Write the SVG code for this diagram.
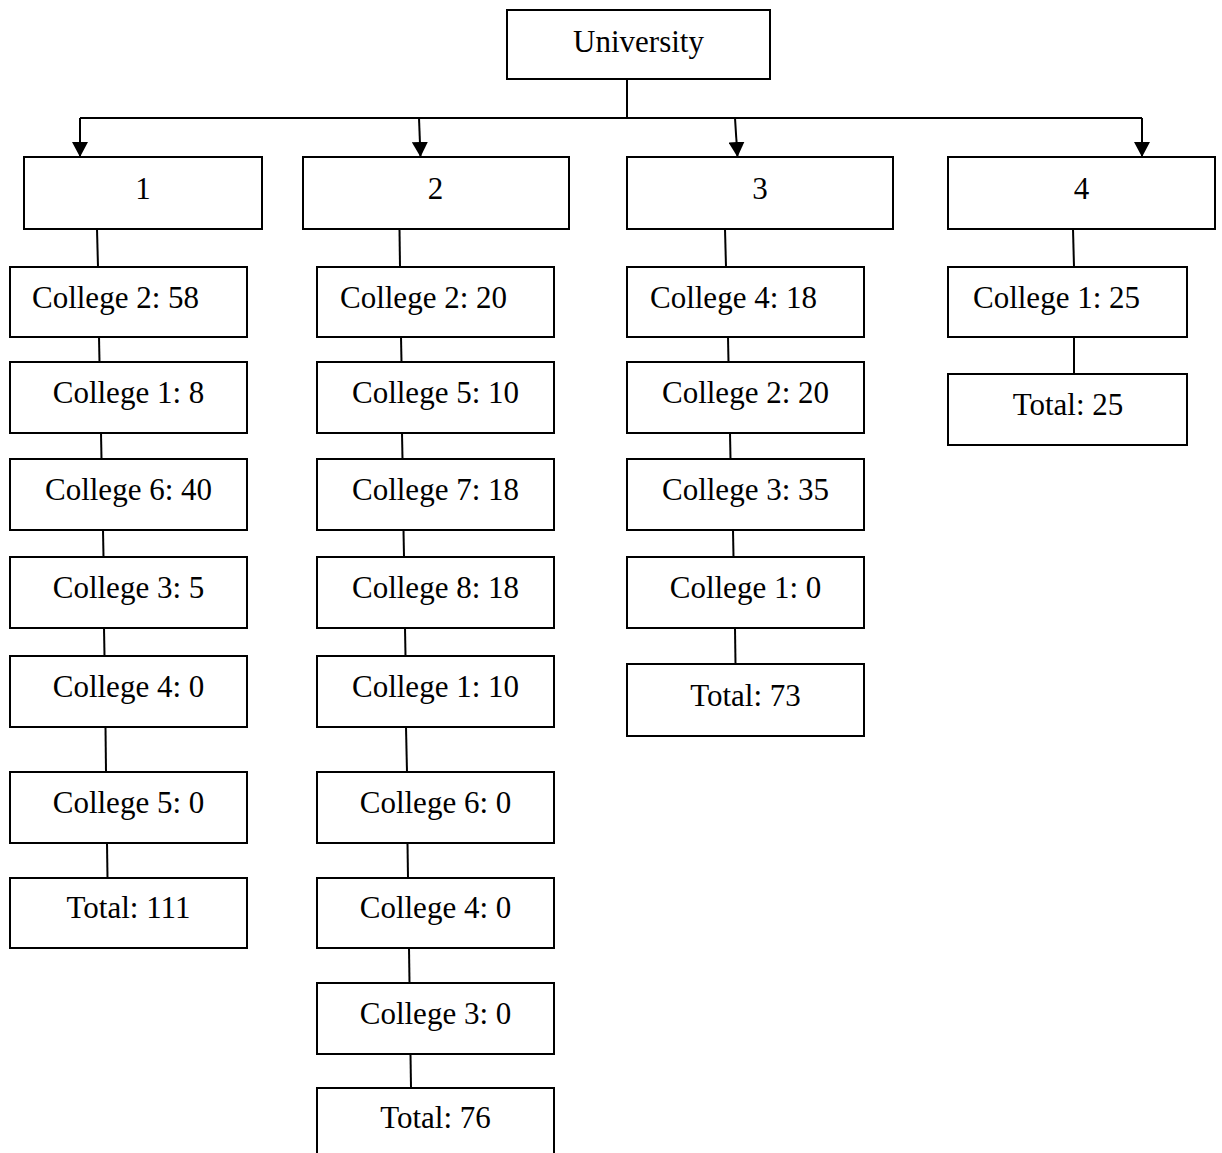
<svg xmlns="http://www.w3.org/2000/svg" width="1222" height="1153" viewBox="0 0 1222 1153">
<style>
.box{fill:#fff;stroke:#000;stroke-width:2}
.lbl{font-family:"Liberation Serif","Times New Roman",serif;font-size:31px;fill:#000;text-anchor:middle}
.conn line{stroke:#000;stroke-width:2;fill:none}
</style>
<defs>
<marker id="ah" markerUnits="userSpaceOnUse" markerWidth="16" markerHeight="16" refX="15" refY="8" orient="auto">
<path d="M0,0 L15,8 L0,16 z" fill="#000"/>
</marker>
</defs>
<rect width="1222" height="1153" fill="#fff"/>
<g class="conn" id="connectors">
<line x1="627" y1="79" x2="627" y2="118"/>
<line x1="80" y1="118" x2="1142" y2="118"/>
<line x1="80" y1="118" x2="80" y2="157" marker-end="url(#ah)"/>
<line x1="419" y1="118" x2="420.5" y2="157" marker-end="url(#ah)"/>
<line x1="735" y1="118" x2="737.5" y2="157" marker-end="url(#ah)"/>
<line x1="1142" y1="118" x2="1142" y2="157" marker-end="url(#ah)"/>
<line x1="97" y1="229" x2="98" y2="267"/>
<line x1="99" y1="337" x2="99.5" y2="362"/>
<line x1="101" y1="433" x2="101.5" y2="459"/>
<line x1="103" y1="530" x2="103.5" y2="557"/>
<line x1="104" y1="628" x2="104.5" y2="656"/>
<line x1="105.5" y1="727" x2="106" y2="772"/>
<line x1="107" y1="843" x2="107.5" y2="878"/>
<line x1="399.5" y1="229" x2="400" y2="267"/>
<line x1="401" y1="337" x2="401.5" y2="362"/>
<line x1="402" y1="433" x2="402.5" y2="459"/>
<line x1="403.5" y1="530" x2="404" y2="557"/>
<line x1="405" y1="628" x2="405.5" y2="656"/>
<line x1="406" y1="727" x2="407" y2="772"/>
<line x1="407.5" y1="843" x2="408" y2="878"/>
<line x1="409" y1="948" x2="409.5" y2="983"/>
<line x1="410.5" y1="1054" x2="411" y2="1088"/>
<line x1="725" y1="229" x2="726" y2="267"/>
<line x1="728" y1="337" x2="728.5" y2="362"/>
<line x1="730" y1="433" x2="730.5" y2="459"/>
<line x1="733" y1="530" x2="733.5" y2="557"/>
<line x1="735" y1="628" x2="735.5" y2="664"/>
<line x1="1073" y1="229" x2="1074" y2="267"/>
<line x1="1074" y1="337" x2="1074" y2="374"/>
</g>
<g id="university"><rect class="box" x="507" y="10" width="263" height="69"/><text class="lbl" x="638.5" y="52">University</text></g>
<g id="n1"><rect class="box" x="24" y="157" width="238" height="72"/><text class="lbl" x="143" y="199">1</text></g>
<g id="n2"><rect class="box" x="303" y="157" width="266" height="72"/><text class="lbl" x="435.5" y="199">2</text></g>
<g id="n3"><rect class="box" x="627" y="157" width="266" height="72"/><text class="lbl" x="760" y="199">3</text></g>
<g id="n4"><rect class="box" x="948" y="157" width="267" height="72"/><text class="lbl" x="1081.5" y="199">4</text></g>

<g id="c1r1"><rect class="box" x="10" y="267" width="237" height="70"/><text class="lbl" x="115.5" y="308">College 2: 58</text></g>
<g id="c1r2"><rect class="box" x="10" y="362" width="237" height="71"/><text class="lbl" x="128.5" y="403">College 1: 8</text></g>
<g id="c1r3"><rect class="box" x="10" y="459" width="237" height="71"/><text class="lbl" x="128.5" y="500">College 6: 40</text></g>
<g id="c1r4"><rect class="box" x="10" y="557" width="237" height="71"/><text class="lbl" x="128.5" y="598">College 3: 5</text></g>
<g id="c1r5"><rect class="box" x="10" y="656" width="237" height="71"/><text class="lbl" x="128.5" y="697">College 4: 0</text></g>
<g id="c1r6"><rect class="box" x="10" y="772" width="237" height="71"/><text class="lbl" x="128.5" y="813">College 5: 0</text></g>
<g id="c1r7"><rect class="box" x="10" y="878" width="237" height="70"/><text class="lbl" x="128.5" y="918">Total: 111</text></g>

<g id="c2r1"><rect class="box" x="317" y="267" width="237" height="70"/><text class="lbl" x="423.5" y="308">College 2: 20</text></g>
<g id="c2r2"><rect class="box" x="317" y="362" width="237" height="71"/><text class="lbl" x="435.5" y="403">College 5: 10</text></g>
<g id="c2r3"><rect class="box" x="317" y="459" width="237" height="71"/><text class="lbl" x="435.5" y="500">College 7: 18</text></g>
<g id="c2r4"><rect class="box" x="317" y="557" width="237" height="71"/><text class="lbl" x="435.5" y="598">College 8: 18</text></g>
<g id="c2r5"><rect class="box" x="317" y="656" width="237" height="71"/><text class="lbl" x="435.5" y="697">College 1: 10</text></g>
<g id="c2r6"><rect class="box" x="317" y="772" width="237" height="71"/><text class="lbl" x="435.5" y="813">College 6: 0</text></g>
<g id="c2r7"><rect class="box" x="317" y="878" width="237" height="70"/><text class="lbl" x="435.5" y="918">College 4: 0</text></g>
<g id="c2r8"><rect class="box" x="317" y="983" width="237" height="71"/><text class="lbl" x="435.5" y="1024">College 3: 0</text></g>
<g id="c2r9"><rect class="box" x="317" y="1088" width="237" height="75"/><text class="lbl" x="435.5" y="1128">Total: 76</text></g>

<g id="c3r1"><rect class="box" x="627" y="267" width="237" height="70"/><text class="lbl" x="733.5" y="308">College 4: 18</text></g>
<g id="c3r2"><rect class="box" x="627" y="362" width="237" height="71"/><text class="lbl" x="745.5" y="403">College 2: 20</text></g>
<g id="c3r3"><rect class="box" x="627" y="459" width="237" height="71"/><text class="lbl" x="745.5" y="500">College 3: 35</text></g>
<g id="c3r4"><rect class="box" x="627" y="557" width="237" height="71"/><text class="lbl" x="745.5" y="598">College 1: 0</text></g>
<g id="c3r5"><rect class="box" x="627" y="664" width="237" height="72"/><text class="lbl" x="745.5" y="706">Total: 73</text></g>

<g id="c4r1"><rect class="box" x="948" y="267" width="239" height="70"/><text class="lbl" x="1056.5" y="308">College 1: 25</text></g>
<g id="c4r2"><rect class="box" x="948" y="374" width="239" height="71"/><text class="lbl" x="1068" y="415">Total: 25</text></g>
</svg>
